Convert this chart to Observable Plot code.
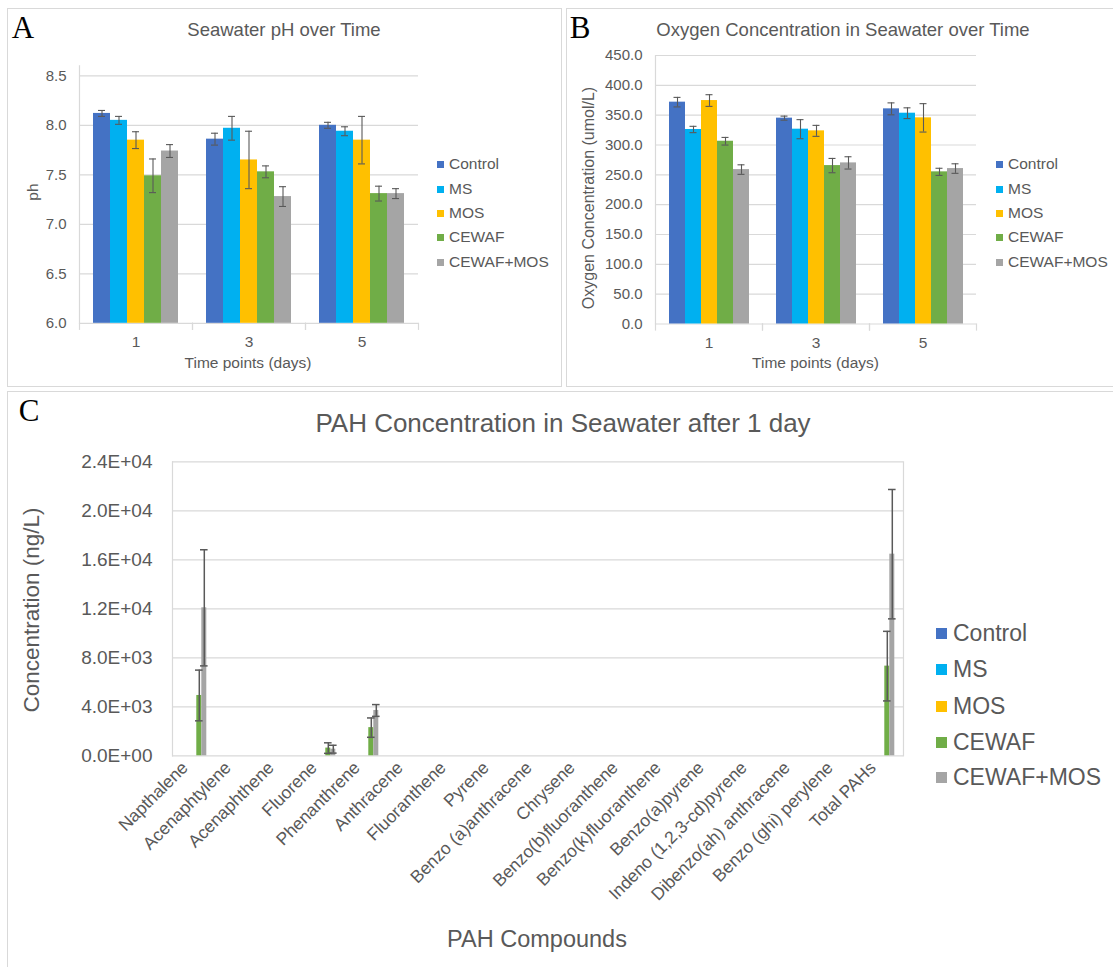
<!DOCTYPE html>
<html><head><meta charset="utf-8">
<script src="https://cdn.jsdelivr.net/npm/d3@7"></script>
<script src="https://cdn.jsdelivr.net/npm/@observablehq/plot@0.6"></script>
<style>
body{margin:0;background:#fff;}
#page{position:relative;width:1113px;height:967px;overflow:hidden;background:#fff;font-family:"Liberation Sans",Arial,Helvetica,sans-serif;color:#595959;}
.panel{position:absolute;border:1px solid #d9d9d9;box-sizing:border-box;}
.t{position:absolute;white-space:nowrap;line-height:1;}
.chart{position:absolute;}
.sq{position:absolute;}
</style></head>
<body><div id="page"></div>
<script>
// ---------- data ----------
const days = ["1", "3", "5"];
const treatments = ["Control", "MS", "MOS", "CEWAF", "CEWAF+MOS"];
const treatmentColors = ["#4472C4", "#00B0F0", "#FFC000", "#70AD47", "#A5A5A5"];

// Panel A: seawater pH (days 1, 3, 5)
const phControl = [8.12, 7.86, 8.00];
const phMS = [8.05, 7.97, 7.94];
const phMOS = [7.85, 7.65, 7.85];
const phCEWAF = [7.49, 7.53, 7.31];
const phCEWAFMOS = [7.74, 7.28, 7.31];
const phControlErr = [0.03, 0.06, 0.03];
const phMSErr = [0.04, 0.12, 0.045];
const phMOSErr = [0.085, 0.29, 0.24];
const phCEWAFErr = [0.17, 0.06, 0.075];
const phCEWAFMOSErr = [0.065, 0.10, 0.05];
const phTicks = [6.0, 6.5, 7.0, 7.5, 8.0, 8.5];

// Panel B: oxygen (umol/L)
const oxControl = [371.8, 345.0, 360.6];
const oxMS = [326.0, 326.5, 353.3];
const oxMOS = [374.5, 323.7, 345.5];
const oxCEWAF = [306.3, 265.5, 255.0];
const oxCEWAFMOS = [258.8, 270.0, 260.5];
const oxControlErr = [8, 3.4, 10];
const oxMSErr = [5.3, 16, 9];
const oxMOSErr = [9.8, 9.2, 23.8];
const oxCEWAFErr = [6.4, 12, 6];
const oxCEWAFMOSErr = [8, 10.3, 8];
const oxTicks = [0, 50, 100, 150, 200, 250, 300, 350, 400, 450];

// Panel C: PAH concentration after 1 day (ng/L)
const compounds = ["Napthalene", "Acenaphtylene", "Acenaphthene", "Fluorene", "Phenanthrene", "Anthracene",
  "Fluoranthene", "Pyrene", "Benzo (a)anthracene", "Chrysene", "Benzo(b)fluoranthene", "Benzo(k)fluoranthene",
  "Benzo(a)pyrene", "Indeno (1,2,3-cd)pyrene", "Dibenzo(ah) anthracene", "Benzo (ghi) perylene", "Total PAHs"];
const pahControl = [0,0,0,0,0,0,0,0,0,0,0,0,0,0,0,0,0];
const pahMS = [0,0,0,0,0,0,0,0,0,0,0,0,0,0,0,0,0];
const pahMOS = [0,0,0,0,0,0,0,0,0,0,0,0,0,0,0,0,0];
const pahCEWAF = [4925,0,0,630,2300,0,0,0,0,0,0,0,0,0,0,0,7320];
const pahCEWAFMOS = [12080,0,0,540,3700,0,0,0,0,0,0,0,0,0,0,0,16460];
const pahControlErr = [0,0,0,0,0,0,0,0,0,0,0,0,0,0,0,0,0];
const pahMSErr = [0,0,0,0,0,0,0,0,0,0,0,0,0,0,0,0,0];
const pahMOSErr = [0,0,0,0,0,0,0,0,0,0,0,0,0,0,0,0,0];
const pahCEWAFErr = [2070,0,0,430,790,0,0,0,0,0,0,0,0,0,0,0,2840];
const pahCEWAFMOSErr = [4740,0,0,320,480,0,0,0,0,0,0,0,0,0,0,0,5280];
const pahTicks = [0, 4000, 8000, 12000, 16000, 20000, 24000];

// ---------- helpers ----------
const FONT = '"Liberation Sans", Arial, Helvetica, sans-serif';
const GREY = "#595959", GRID = "#d9d9d9";
const page = document.getElementById("page");

function makeRows(cats, means, errs) {
  const rows = [];
  cats.forEach((c, i) => treatments.forEach((s, j) => rows.push({cat: c, series: s, value: means[j][i], err: errs[j][i]})));
  return rows;
}
function sci(d) {
  if (d === 0) return "0.0E+00";
  const e = Math.floor(Math.log10(Math.abs(d)));
  const m = d / Math.pow(10, e);
  return m.toFixed(1) + "E" + (e < 0 ? "-" : "+") + String(Math.abs(e)).padStart(2, "0");
}
function text(str, cx, cy, o = {}) {
  const el = document.createElement("div");
  el.className = "t";
  el.textContent = str;
  el.style.left = cx + "px";
  el.style.top = cy + "px";
  el.style.fontSize = (o.size || 15) + "px";
  if (o.color) el.style.color = o.color;
  if (o.family) el.style.fontFamily = o.family;
  const anchor = o.anchor === "start" ? "0%" : "-50%";
  el.style.transform = `translate(${anchor},-50%)`;
  if (o.rotate) el.style.transform = `translate(-50%,-50%) rotate(${o.rotate}deg)`;
  page.appendChild(el);
}
function box(l, t, w, h) {
  const el = document.createElement("div");
  el.className = "panel";
  Object.assign(el.style, {left: l + "px", top: t + "px", width: w + "px", height: h + "px"});
  page.appendChild(el);
}
function legend(x, ys, sq, size, gap) {
  treatments.forEach((s, i) => {
    const q = document.createElement("div");
    q.className = "sq";
    Object.assign(q.style, {left: x + "px", top: (ys[i] - sq / 2) + "px", width: sq + "px", height: sq + "px", background: treatmentColors[i]});
    page.appendChild(q);
    text(s, x + sq + gap, ys[i], {size, anchor: "start"});
  });
}

function groupedChart(cfg) {
  const {rows, cats, yDomain, yTicks, yFormat, left, top, width, height, margin, fontSize,
    fxFontSize, outer, capInset, errWidth, boundaryTicks, rightLine, fxRotate, fxPadding, yPadding, fxDx, fxDy} = cfg;
  const plotH = height - margin.top - margin.bottom;
  const withErr = rows.filter(d => d.err > 0);
  const marks = [
    Plot.ruleY(yTicks, {stroke: GRID, strokeWidth: 1.2}),
    Plot.frame({anchor: "left", facetAnchor: "left", stroke: GRID, strokeWidth: 1.2})
  ];
  if (rightLine) marks.push(Plot.frame({anchor: "right", facetAnchor: "right", stroke: GRID, strokeWidth: 1.2}));
  if (boundaryTicks) {
    marks.push(Plot.frame({anchor: "left", stroke: GRID, strokeWidth: 1.2, insetTop: plotH, insetBottom: -6}));
    marks.push(Plot.frame({anchor: "right", stroke: GRID, strokeWidth: 1.2, insetTop: plotH, insetBottom: -6}));
  }
  marks.push(
    Plot.barY(rows, {fx: "cat", x: "series", y1: yDomain[0], y2: "value", fill: "series"}),
    Plot.ruleX(withErr, {fx: "cat", x: "series", y1: d => d.value - d.err, y2: d => d.value + d.err, stroke: GREY, strokeWidth: errWidth}),
    Plot.tickY(withErr, {fx: "cat", x: "series", y: d => d.value + d.err, stroke: GREY, strokeWidth: errWidth, insetLeft: capInset, insetRight: capInset}),
    Plot.tickY(withErr, {fx: "cat", x: "series", y: d => d.value - d.err, stroke: GREY, strokeWidth: errWidth, insetLeft: capInset, insetRight: capInset}),
    Plot.axisY({ticks: yTicks, tickFormat: yFormat, tickSize: 0, tickPadding: yPadding, label: null, fill: GREY}),
    Plot.axisFx({anchor: "bottom", tickSize: 0, tickPadding: fxPadding, label: null, fill: GREY, tickRotate: fxRotate || 0, fontSize: fxFontSize, dx: fxDx || 0, dy: fxDy || 0})
  );
  const svg = Plot.plot({
    width, height,
    marginLeft: margin.left, marginRight: margin.right, marginTop: margin.top, marginBottom: margin.bottom,
    style: {fontFamily: FONT, fontSize: fontSize + "px", color: GREY, background: "transparent", overflow: "visible"},
    fx: {domain: cats, padding: 0},
    x: {domain: treatments, paddingInner: 0, paddingOuter: outer, axis: null},
    y: {domain: yDomain, axis: null},
    color: {domain: treatments, range: treatmentColors},
    marks
  });
  svg.classList.add("chart");
  svg.style.left = left + "px";
  svg.style.top = top + "px";
  svg.style.maxWidth = "none";
  page.appendChild(svg);
}

// ---------- panels ----------
box(7, 8, 555, 379);
box(566, 8, 548, 379);
box(7, 391, 1107, 577);

// Panel A
groupedChart({
  rows: makeRows(days, [phControl, phMS, phMOS, phCEWAF, phCEWAFMOS], [phControlErr, phMSErr, phMOSErr, phCEWAFErr, phCEWAFMOSErr]),
  cats: days, yDomain: [6, 8.6], yTicks: phTicks, yFormat: d3.format(".1f"),
  left: 0, top: 0, width: 561, height: 386,
  margin: {left: 78, right: 143, top: 65.4, bottom: 63.2},
  fontSize: 15, fxFontSize: 15.5, outer: 0.76, capInset: 5, errWidth: 1.1,
  boundaryTicks: true, rightLine: false, fxPadding: 13, yPadding: 13
});
// Panel B
groupedChart({
  rows: makeRows(days, [oxControl, oxMS, oxMOS, oxCEWAF, oxCEWAFMOS], [oxControlErr, oxMSErr, oxMOSErr, oxCEWAFErr, oxCEWAFMOSErr]),
  cats: days, yDomain: [0, 450], yTicks: oxTicks, yFormat: d3.format(".1f"),
  left: 566, top: 0, width: 547, height: 386,
  margin: {left: 88, right: 136, top: 55, bottom: 62.5},
  fontSize: 15, fxFontSize: 15.5, outer: 0.76, capInset: 4.5, errWidth: 1.1,
  boundaryTicks: true, rightLine: false, fxPadding: 13, yPadding: 13
});
// Panel C
groupedChart({
  rows: makeRows(compounds, [pahControl, pahMS, pahMOS, pahCEWAF, pahCEWAFMOS], [pahControlErr, pahMSErr, pahMOSErr, pahCEWAFErr, pahCEWAFMOSErr]),
  cats: compounds, yDomain: [0, 24000], yTicks: pahTicks, yFormat: sci,
  left: 7, top: 391, width: 1106, height: 576,
  margin: {left: 160.7, right: 204.7, top: 70.3, bottom: 211.7},
  fontSize: 19, fxFontSize: 17.5, outer: 1.39, capInset: -1.3, errWidth: 1.5,
  boundaryTicks: false, rightLine: true, fxRotate: -45, fxPadding: 9, yPadding: 20, fxDx: -9
});

// ---------- texts ----------
const SERIF = '"Liberation Serif", "Times New Roman", serif';
text("A", 23, 27, {size: 31, color: "#000", family: SERIF});
text("B", 580, 27, {size: 31, color: "#000", family: SERIF});
text("C", 29, 410, {size: 31, color: "#000", family: SERIF});

text("Seawater pH over Time", 284, 30, {size: 18.5});
text("ph", 33, 192, {size: 15.5, rotate: -90});
text("Time points (days)", 248, 363, {size: 15.5});
legend(437, [164, 189, 213, 237, 262], 7, 15.5, 5);

text("Oxygen Concentration in Seawater over Time", 843, 30, {size: 18.5});
text("Oxygen Concentration (umol/L)", 589, 198, {size: 16, rotate: -90});
text("Time points (days)", 815.5, 363, {size: 15.5});
legend(996, [164, 189, 213, 237, 262], 7, 15.5, 5);

text("PAH Concentration in Seawater after 1 day", 563, 423, {size: 26});
text("Concentration (ng/L)", 32, 610, {size: 22.5, rotate: -90});
text("PAH Compounds", 537, 940, {size: 23.5});
legend(936, [633, 669, 706, 742, 777], 11, 23, 6);
</script>
</body></html>
